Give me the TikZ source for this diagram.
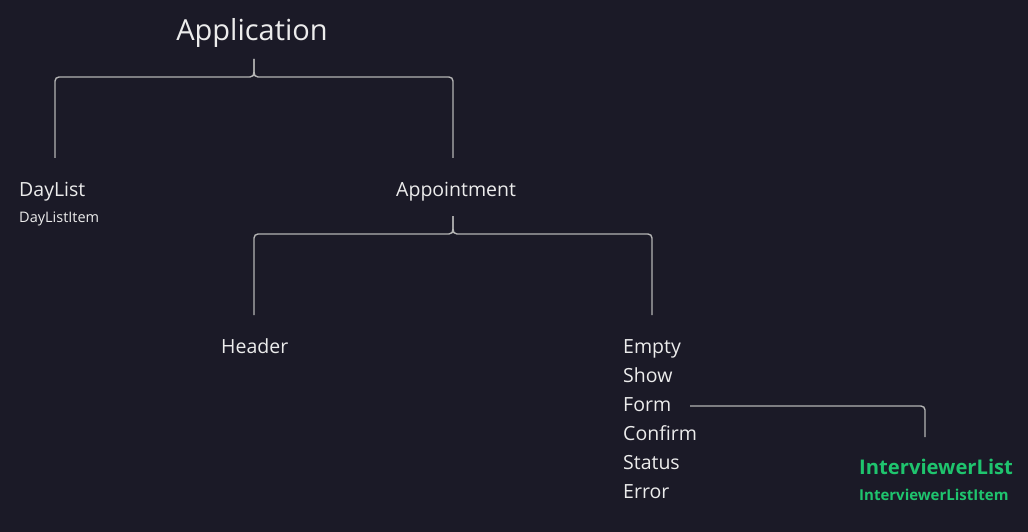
\documentclass[tikz,border=0pt]{standalone}
\usepackage{fontspec}
\setmainfont{Open Sans}
\definecolor{bg}{HTML}{1B1A27}
\definecolor{ln}{HTML}{B4B4B4}
\definecolor{tx}{HTML}{ECECEC}
\definecolor{gr}{HTML}{1FC46E}
\begin{document}
\begin{tikzpicture}[x=1pt,y=1pt,
  lbl/.style={anchor=base west,inner sep=0pt,text=tx},
  conn/.style={draw=ln,line width=1.4pt},
  big/.style={anchor=base,inner sep=0pt,text=tx,font=\fontsize{29}{34}\selectfont},
  mid/.style={lbl,font=\fontsize{19.5}{24}\selectfont},
  small/.style={lbl,font=\fontsize{14.5}{18}\selectfont},
  gbig/.style={lbl,text=gr,font=\fontsize{20.2}{24}\selectfont\bfseries},
  gsmall/.style={lbl,text=gr,font=\fontsize{15}{18}\selectfont\bfseries}]
\fill[bg] (0,0) rectangle (1028,-532);
\useasboundingbox (0,0) rectangle (1028,-532);
% texts
\node[big] (app) at (252,-41) {Application};
\node[mid] (dl) at (19,-196) {DayList};
\node[small] (dli) at (19,-222) {DayListItem};
\node[mid] (appt) at (396,-196) {Appointment};
\node[mid] (hdr) at (221,-353) {Header};
\node[mid] (empty) at (623,-353) {Empty};
\node[mid] (show) at (623,-382) {Show};
\node[mid] (form) at (623,-411) {Form};
\node[mid] (conf) at (623,-440) {Confirm};
\node[mid] (stat) at (623,-469) {Status};
\node[mid] (err) at (623,-498) {Error};
\node[gbig] (il) at (859,-474) {InterviewerList};
\node[gsmall] (ili) at (859,-500) {InterviewerListItem};
% connector anchors
\coordinate (a1) at (254,-59);
\coordinate (a1l) at (55,-158);
\coordinate (a1r) at (453,-158);
\coordinate (a2) at (453,-216);
\coordinate (a2l) at (254,-315);
\coordinate (a2r) at (652,-315);
\coordinate (f1) at (690,-406);
\coordinate (f2) at (925,-437);
% brace 1
\draw[conn] (a1) -- ++(0,-13) .. controls +(0,-3) and +(3,0) .. ++(-4,-5)
  [rounded corners=4pt] -- (a1l |- 0,-77) -- (a1l);
\draw[conn] (a1) -- ++(0,-13) .. controls +(0,-3) and +(-3,0) .. ++(4,-5)
  [rounded corners=4pt] -- (a1r |- 0,-77) -- (a1r);
% brace 2
\draw[conn] (a2) -- ++(0,-13) .. controls +(0,-3) and +(3,0) .. ++(-4,-5)
  [rounded corners=4pt] -- (a2l |- 0,-234) -- (a2l);
\draw[conn] (a2) -- ++(0,-13) .. controls +(0,-3) and +(-3,0) .. ++(4,-5)
  [rounded corners=4pt] -- (a2r |- 0,-234) -- (a2r);
% form link
\draw[conn,rounded corners=4pt] (f1) -- (f2 |- f1) -- (f2);
\end{tikzpicture}
\end{document}
